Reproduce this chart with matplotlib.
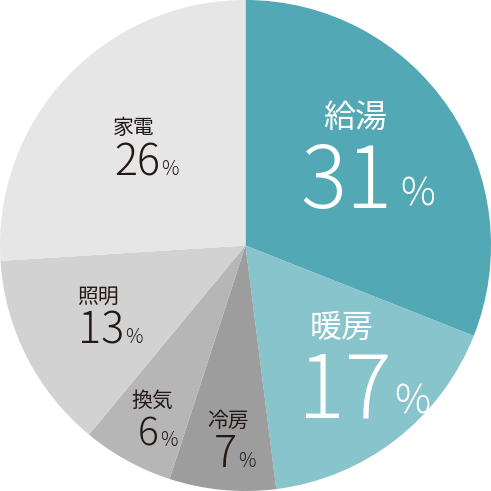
import matplotlib.pyplot as plt

# energy use share, clockwise from the top
labels = ["給湯", "暖房", "冷房", "換気", "照明", "家電"]
values = [31, 17, 7, 6, 13, 26]
colors = ["#52a8b4", "#87c4cc", "#9d9d9d", "#b6b6b6", "#d2d2d2", "#e6e6e6"]
text_colors = ["white", "white", "#231815", "#231815", "#231815", "#231815"]

# label layout in picture pixels (from top-left): name centre, number right edge / baseline,
# percent sign left edge / baseline
name_xy = [(355, 118), (342, 328), (228, 421), (152, 401), (98, 297), (134, 128)]
num_xy = [(392, 208), (392, 418), (237, 467), (159, 445), (124, 343), (160, 175)]
pct_xy = [(400, 205), (394, 413), (238, 467), (160, 446), (125, 343), (161, 175)]
name_size = [23, 23, 15, 15, 15, 15]
num_size = [62, 63, 31, 28, 31, 31]
pct_size = [28, 29, 14, 14, 14, 14]

W = H = 491
fig = plt.figure(figsize=(W / 100, H / 100), dpi=100)
ax = fig.add_axes([0, 0, 1, 1])
ax.pie(values, colors=colors, startangle=90, counterclock=False, radius=1.0,
       wedgeprops=dict(linewidth=0))
ax.set_xlim(-1, 1)
ax.set_ylim(-1, 1)
ax.set_aspect("equal")
ax.axis("off")


def fig_xy(p):
    return p[0] / W, 1 - p[1] / H


font = ["Noto Sans CJK JP", "DejaVu Sans"]
for i, name in enumerate(labels):
    c = text_colors[i]
    x, y = fig_xy(name_xy[i])
    fig.text(x, y, name, ha="center", va="center", fontsize=name_size[i], color=c, family=font)
    x, y = fig_xy(num_xy[i])
    fig.text(x, y, str(values[i]), ha="right", va="baseline", fontsize=num_size[i],
             color=c, family=font, fontweight="light")
    x, y = fig_xy(pct_xy[i])
    fig.text(x, y, "%", ha="left", va="baseline", fontsize=pct_size[i],
             color=c, family=font, fontweight="light")

fig.savefig("out.png", dpi=100)
